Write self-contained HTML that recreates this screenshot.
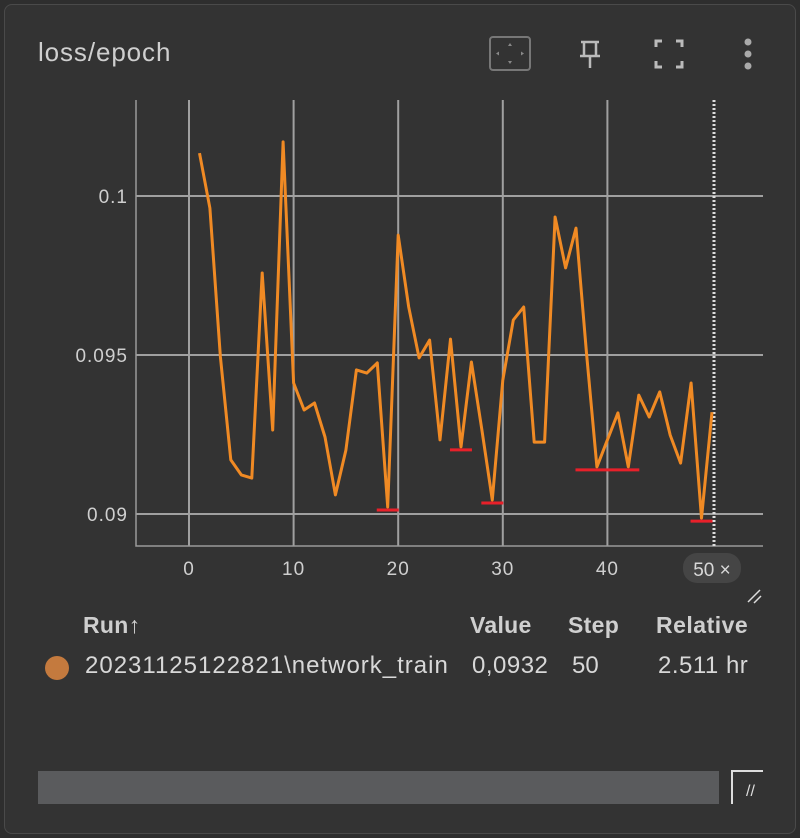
<!DOCTYPE html>
<html><head><meta charset="utf-8">
<style>
html,body{margin:0;padding:0;background:#2e2e2e;}
body{width:800px;height:838px;position:relative;overflow:hidden;font-family:"Liberation Sans",sans-serif;}
#card{position:absolute;left:4px;top:4px;width:790px;height:828px;background:#333333;border:1px solid #4a4a4a;border-radius:8px;}
.t{position:absolute;color:#d8d8d8;white-space:nowrap;}
</style></head>
<body>
<div id="card"></div>
<div class="t" style="left:38px;top:37px;font-size:26px;letter-spacing:0.9px;color:#cfcfcf;">loss/epoch</div>
<svg width="800" height="838" style="position:absolute;left:0;top:0" id="svg">
  <g><rect x="490" y="37" width="40" height="33" rx="3" fill="none" stroke="#777" stroke-width="2"/><path d="M510 43 l-2 3 h4z M510 64 l-2 -3 h4z M496 53.5 l3 -2 v4z M524 53.5 l-3 -2 v4z" fill="#888"/></g>
  <g stroke="#bbb" stroke-width="2.5" fill="none"><path d="M581 42 h18 M584 42 v14 M596 42 v14 M580 56 h20 M590 56 v12"/></g>
  <g stroke="#bbb" stroke-width="3" fill="none"><path d="M656 47 v-6 h6 M676 41 h6 v6 M682 61 v6 h-6 M662 67 h-6 v-6"/></g>
  <g fill="#aaa"><circle cx="748" cy="42" r="3.5"/><circle cx="748" cy="54" r="3.5"/><circle cx="748" cy="66" r="3.5"/></g>
  <g id="plot"></g>
  <g stroke="#ddd" stroke-width="1.5"><path d="M748 602 l12 -12 M754 603 l7 -7"/></g>
</svg>
<div class="t" style="left:83px;top:612px;font-size:23px;font-weight:bold;letter-spacing:0.3px;color:#cfcfcf;">Run↑</div>
<div class="t" style="left:470px;top:612px;font-size:23px;font-weight:bold;letter-spacing:0.3px;color:#cfcfcf;">Value</div>
<div class="t" style="left:568px;top:612px;font-size:23px;font-weight:bold;letter-spacing:0.3px;color:#cfcfcf;">Step</div>
<div class="t" style="left:656px;top:612px;font-size:23px;font-weight:bold;letter-spacing:0.5px;color:#cfcfcf;">Relative</div>
<div style="position:absolute;left:45px;top:656px;width:24px;height:24px;border-radius:50%;background:#c47a3e;"></div>
<div class="t" style="left:85px;top:652px;font-size:24px;letter-spacing:1px;">20231125122821\network_train</div>
<div class="t" style="left:472px;top:652px;font-size:24px;letter-spacing:0.5px;">0,0932</div>
<div class="t" style="left:572px;top:652px;font-size:24px;">50</div>
<div class="t" style="left:658px;top:652px;font-size:24px;letter-spacing:0.5px;">2.511 hr</div>
<div style="position:absolute;left:38px;top:771px;width:681px;height:33px;background:#5a5b5d;"></div>
<div style="position:absolute;left:731px;top:770px;width:32px;height:34px;border-left:2px solid #ddd;border-top:2px solid #ddd;box-sizing:border-box;"></div>
<div class="t" style="left:746px;top:783px;font-size:16px;color:#ddd;">//</div>
<script>
const steps=[1,2,3,4,5,6,7,8,9,10,11,12,13,14,15,16,17,18,19,20,21,22,23,24,25,26,27,28,29,30,31,32,33,34,35,36,37,38,39,40,41,42,43,44,45,46,47,48,49,50];
const lossValues=[0.10135,0.09962,0.09494,0.0917,0.09123,0.09113,0.09758,0.09264,0.1017,0.09412,0.09327,0.09349,0.09242,0.0906,0.09201,0.09453,0.09443,0.09475,0.09022,0.09877,0.09651,0.09491,0.09547,0.09233,0.0955,0.09211,0.09478,0.09264,0.09044,0.09421,0.0961,0.09651,0.09226,0.09226,0.09934,0.09774,0.09899,0.09506,0.09148,0.09233,0.09318,0.09148,0.09374,0.09305,0.09384,0.09248,0.0916,0.09412,0.08987,0.0932];
const xTicks=[0,10,20,30,40];
const yTicks=[0.09,0.095,0.1];
const yTickLabels=["0.09","0.095","0.1"];
const minMarkers=[[19,19],[26,26],[29,29],[38,42],[49,49]];
const NS="http://www.w3.org/2000/svg";
const g=document.getElementById('plot');
const X=s=>189+s*10.46, Y=v=>514-(v-0.09)*31800;
function mk(t,a){const e=document.createElementNS(NS,t);for(const k in a)e.setAttribute(k,a[k]);g.appendChild(e);return e;}
xTicks.forEach(t=>{
  const l=mk('line',{x1:X(t),x2:X(t),y1:100,y2:546,stroke:'#a0a0a0','stroke-width':2});
  
  
  const tx=mk('text',{x:X(t),y:575,fill:'#cfcfcf','font-size':19,'letter-spacing':1,'text-anchor':'middle','font-family':'Liberation Sans, sans-serif'});
  tx.textContent=t;
  
  
});
yTicks.forEach((t,i)=>{
  const l=mk('line',{x1:136,x2:763,y1:Y(t),y2:Y(t),stroke:'#a0a0a0','stroke-width':2});
  
  
  const tx=mk('text',{x:128,y:Y(t)+7,fill:'#cfcfcf','font-size':19,'letter-spacing':1,'text-anchor':'end','font-family':'Liberation Sans, sans-serif'});
  tx.textContent=yTickLabels[i];
  
  
});
const ax=mk('path',{d:'M136 100 V546 H763',stroke:'#9a9a9a','stroke-width':1.5,fill:'none'});


const last=steps[steps.length-1];
const cur=mk('line',{x1:X(last)+2,x2:X(last)+2,y1:100,y2:546,stroke:'#ddd','stroke-width':3,'stroke-dasharray':'2 2'});


const chip=mk('rect',{x:X(last)-29,y:553,width:58,height:30,rx:14,fill:'#454545'});


const ct=mk('text',{x:X(last),y:576,fill:'#d8d8d8','font-size':19,'text-anchor':'middle','font-family':'Liberation Sans, sans-serif'});
ct.textContent='50 ×';


const pts=steps.map((s,i)=>X(s).toFixed(1)+','+Y(lossValues[i]).toFixed(1)).join(' ');
const ln=mk('polyline',{points:pts,fill:'none',stroke:'#f08a24','stroke-width':3,'stroke-linejoin':'round'});


minMarkers.forEach(m=>{
  let v=Math.min(...lossValues.slice(m[0]-1,m[1]));
  const r=mk('line',{x1:X(m[0])-11,x2:X(m[1])+11,y1:Y(v)+3,y2:Y(v)+3,stroke:'#e8202a','stroke-width':3});
  
  
});
</script>
</body></html>
